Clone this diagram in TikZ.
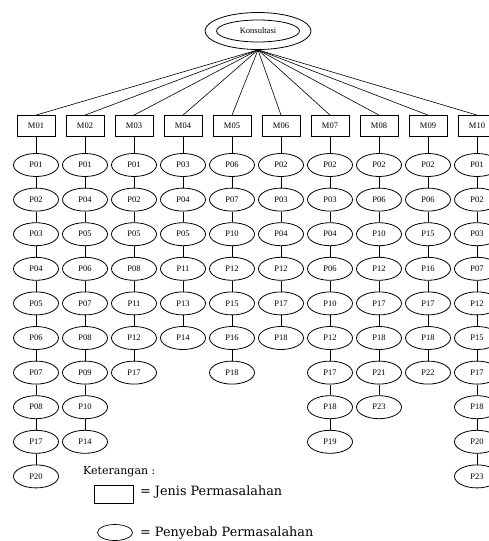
\documentclass[tikz,border=0pt]{standalone}
\usepackage{fontspec}
\setmainfont{Liberation Serif}
\newfontfamily\legendfont{DejaVu Serif}
\usetikzlibrary{shapes.geometric}
\begin{document}
\begin{tikzpicture}[x=1pt,y=-1pt,
  nodefont/.style={font=\fontsize{8.5}{10}\selectfont},
  mbox/.style={draw, line width=0.8pt, minimum width=38pt, minimum height=21pt, inner sep=0pt, nodefont},
  pell/.style={draw, ellipse, line width=0.8pt, minimum width=45pt, minimum height=23pt, inner sep=0pt, nodefont},
  link/.style={line width=0.6pt},
  legtext/.style={anchor=west, inner sep=0pt, font=\legendfont\fontsize{12.8}{15}\selectfont}]
\useasboundingbox (0,0) rectangle (489,541);
\clip (0,0) rectangle (489,541);
% root
\node[draw, ellipse, line width=0.8pt, minimum width=106pt, minimum height=37pt, inner sep=0pt] (kons) at (258,31) {};
\node[draw, ellipse, line width=0.8pt, minimum width=83pt, minimum height=22pt, inner sep=0pt, nodefont] (konsin) at (258,31) {Konsultasi};
% columns
\foreach \lst [count=\i] in {
  {P01,P02,P03,P04,P05,P06,P07,P08,P17,P20},
  {P01,P04,P05,P06,P07,P08,P09,P10,P14},
  {P01,P02,P05,P08,P11,P12,P17},
  {P03,P04,P05,P11,P13,P14},
  {P06,P07,P10,P12,P15,P16,P18},
  {P02,P03,P04,P12,P17,P18},
  {P02,P03,P04,P06,P10,P12,P17,P18,P19},
  {P02,P06,P10,P12,P17,P18,P21,P23},
  {P02,P06,P15,P16,P17,P18,P22},
  {P01,P02,P03,P07,P12,P15,P17,P18,P20,P23}}{
  \pgfmathsetmacro\cx{36+49*(\i-1)}
  \node[mbox] (m\i) at (\cx,126) {\ifnum\i<10 M0\i\else M\i\fi};
  \draw[link] (kons.south) -- (m\i.north);
  \foreach \p [count=\j] in \lst {
    \node[pell] (p\i-\j) at (\cx,{165+34.6*(\j-1)}) {\p};
    \ifnum\j=1
      \draw[link] (m\i.south) -- (p\i-\j.north);
    \else
      \pgfmathtruncatemacro\prev{\j-1}
      \draw[link] (p\i-\prev.south) -- (p\i-\j.north);
    \fi
  }
}
% legend
\node[legtext, font=\legendfont\fontsize{11}{13}\selectfont] (ket) at (83,472) {Keterangan :};
\node[draw, line width=0.7pt, minimum width=39pt, minimum height=18pt, inner sep=0pt] (lbox) at (113.5,494) {};
\node[legtext] (lboxtxt) at (140,492) {= Jenis Permasalahan};
\node[draw, ellipse, line width=0.7pt, minimum width=35pt, minimum height=16pt, inner sep=0pt] (lell) at (115,532.5) {};
\node[legtext] (lelltxt) at (140,533) {= Penyebab Permasalahan};
\end{tikzpicture}
\end{document}
